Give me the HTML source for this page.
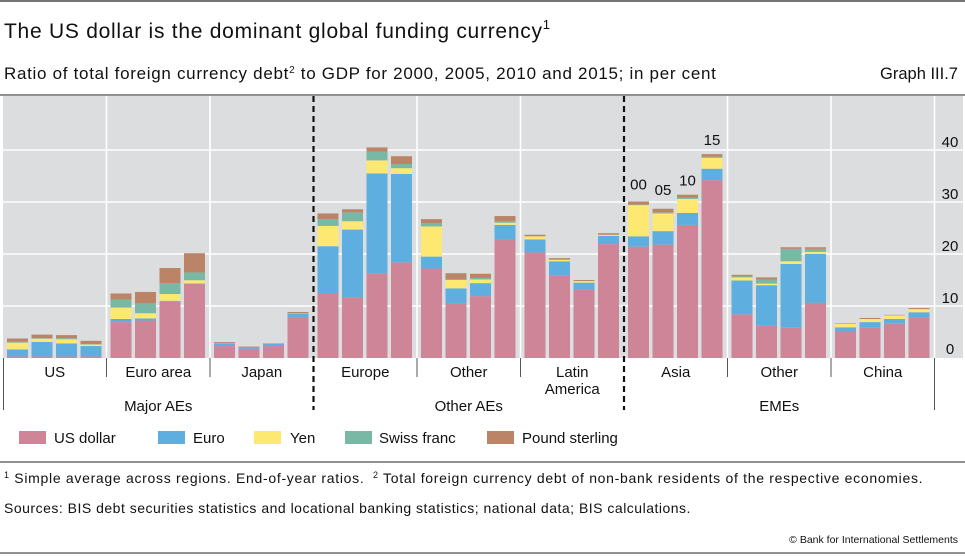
<!DOCTYPE html>
<html><head><meta charset="utf-8"><style>
body{margin:0;background:#fff;}
svg{display:block;font-family:"Liberation Sans",sans-serif;}
</style></head><body>
<svg id="chart" width="965" height="556" viewBox="0 0 965 556">
<line x1="0" y1="1" x2="965" y2="1" stroke="#222" stroke-width="1.2"/>
<text x="4" y="38" font-size="21" fill="#111"><tspan textLength="538" lengthAdjust="spacing">The US dollar is the dominant global funding currency</tspan><tspan font-size="13" dy="-9">1</tspan></text>
<text x="4" y="79" font-size="17" letter-spacing="0.7" fill="#111">Ratio of total foreign currency debt<tspan font-size="10" dy="-6">2</tspan><tspan dy="6"> to GDP for 2000, 2005, 2010 and 2015; in per cent</tspan></text>
<text x="958" y="79" font-size="16.5" fill="#111" text-anchor="end">Graph III.7</text>
<line x1="0" y1="95" x2="965" y2="95" stroke="#222" stroke-width="1"/>
<rect x="3" y="96" width="960" height="262" fill="#dcdddf"/>
<g id="grid"></g><g id="bars"></g><g id="axis"></g>
<g>
<rect x="19" y="431" width="27" height="13" fill="#cf8598"/><text x="54" y="443" font-size="15" fill="#111">US dollar</text>
<rect x="158" y="431" width="27" height="13" fill="#5eaee0"/><text x="193" y="443" font-size="15" fill="#111">Euro</text>
<rect x="254" y="431" width="27" height="13" fill="#fde872"/><text x="290" y="443" font-size="15" fill="#111">Yen</text>
<rect x="345" y="431" width="27" height="13" fill="#7ab8a6"/><text x="379" y="443" font-size="15" fill="#111">Swiss franc</text>
<rect x="487" y="431" width="27" height="13" fill="#bb8466"/><text x="522" y="443" font-size="15" fill="#111">Pound sterling</text>
</g>
<line x1="0" y1="462" x2="965" y2="462" stroke="#222" stroke-width="1"/>
<text x="4" y="483" font-size="14" letter-spacing="0.7" fill="#111"><tspan font-size="9" dy="-5">1</tspan><tspan dy="5">  Simple average across regions. End-of-year ratios.</tspan><tspan x="373" font-size="9" dy="-5">2</tspan><tspan dy="5">  Total foreign currency debt of non-bank residents of the respective economies.</tspan></text>
<text x="4" y="513" font-size="14" letter-spacing="0.5" fill="#111">Sources: BIS debt securities statistics and locational banking statistics; national data; BIS calculations.</text>
<text x="958" y="543" font-size="10.5" fill="#111" text-anchor="end">© Bank for International Settlements</text>
<line x1="0" y1="553" x2="965" y2="553" stroke="#222" stroke-width="1"/>
</svg>
<script>
const categories = ["US","Euro area","Japan","Europe","Other","Latin America","Asia","Other","China"];
const years = ["00","05","10","15"];
const usd  = [0.3,0.3,0.3,0.3, 6.9,7.2,10.8,14.3, 2.3,1.8,2.3,7.8, 12.5,11.7,16.3,18.4, 17.2,10.5,11.9,22.8, 20.3,15.8,13.1,21.9, 21.4,21.8,25.6,34.2, 8.4,6.2,5.9,10.6, 5.1,5.9,6.6,7.8];
const euro = [1.35,2.8,2.5,2.0, 0.6,0.4,0.2,0.05, 0.5,0.3,0.4,0.8, 9.0,13.0,19.2,17.0, 2.3,2.9,2.5,2.8, 2.5,2.8,1.4,1.6, 2.0,2.6,2.3,2.2, 6.5,7.8,12.2,9.4, 0.8,1.0,0.9,1.0];
const yen  = [1.3,0.6,0.8,0.3, 2.2,1.0,1.3,0.6, 0.05,0,0,0.05, 3.9,1.6,2.5,1.1, 5.8,1.6,0.7,0.4, 0.6,0.3,0.3,0.2, 6.0,3.4,2.7,2.1, 0.6,0.3,0.5,0.4, 0.7,0.6,0.7,0.6];
const chf  = [0.2,0.1,0.2,0.1, 1.5,1.9,2.1,1.5, 0,0,0,0, 1.3,1.7,1.7,0.8, 0.6,0.2,0.3,0.3, 0,0,0,0, 0.1,0.2,0.2,0.2, 0.2,0.8,2.4,0.6, 0,0,0,0];
const gbp  = [0.6,0.7,0.6,0.6, 1.2,2.2,2.9,3.7, 0.2,0.1,0.1,0.2, 1.1,0.6,0.8,1.5, 0.8,1.1,0.8,1.0, 0.3,0.3,0.2,0.3, 0.6,0.7,0.6,0.5, 0.3,0.4,0.3,0.3, 0.1,0.2,0.1,0.2];
const yTicks = [0,10,20,30,40];
const series = [usd,euro,yen,chf,gbp];
const seriesNames = ["usd","euro","yen","chf","gbp"];
const colors = ["#cf8598","#5eaee0","#fde872","#7ab8a6","#bb8466"];

const NS="http://www.w3.org/2000/svg";
const y0=358, pxPerUnit=5.2, x0=3, groupW=103.5, barW=21, barStep=24.5;
function yScale(v){return y0-v*pxPerUnit;}
function xScale(i){const g=Math.floor(i/4),k=i%4;return x0+g*groupW+4+k*barStep;}
function mk(tag,attrs,parent){const e=document.createElementNS(NS,tag);for(const k in attrs)e.setAttribute(k,attrs[k]);parent.appendChild(e);return e;}
const grid=document.getElementById('grid'), bars=document.getElementById('bars'), axis=document.getElementById('axis');

yTicks.forEach(t=>{
  if(t>0){const l=mk('line',{x1:3,x2:963,y1:yScale(t),y2:yScale(t),stroke:'#fff','stroke-width':1.6},grid);
  
  }
  const tx=mk('text',{x:950,y:yScale(t)-(t===0?4:3),'font-size':15,'text-anchor':'middle',fill:'#111'},grid);
  tx.textContent=t;
  
  
});
for(let g=1;g<=9;g++){
  const x=x0+g*groupW;
  if(g===3||g===6) continue;
  const l=mk('line',{x1:x,x2:x,y1:96,y2:358,stroke:'#fff','stroke-width':1.6},grid);
  
  
}
[3,6].forEach(g=>{
  const x=x0+g*groupW;
  const l=mk('line',{x1:x,x2:x,y1:96,y2:410,stroke:'#111','stroke-width':2.2,'stroke-dasharray':'6,4'},grid);
  
  
});

for(let i=0;i<usd.length;i++){
  let cum=0;
  series.forEach((s,si)=>{
    const v=s[i]; if(v<=0) return;
    const r=mk('rect',{x:xScale(i),y:yScale(cum+v),width:barW,height:v*pxPerUnit,fill:colors[si]},bars);
    
    
    cum+=v;
  });
  if(i>=24&&i<28){
    const off=[17,19,14,14][i-24];
    const t=mk('text',{x:xScale(i)+barW/2,y:yScale(cum)-off+5,'font-size':15,'text-anchor':'middle',fill:'#111'},bars);
    t.textContent=years[i-24];
    
    
  }
}

categories.forEach((c,g)=>{
  const cx=x0+g*groupW+groupW/2;
  const t=mk('text',{x:cx,y:377,'font-size':15,'text-anchor':'middle',fill:'#111'},axis);
  if(c==="Latin America"){
    t.innerHTML='<tspan x="'+cx+'">Latin</tspan><tspan x="'+cx+'" dy="17">America</tspan>';
  } else {
    t.textContent=c;
  }
  
  
  if(g>0&&g%3!==0){
    const l=mk('line',{x1:x0+g*groupW,x2:x0+g*groupW,y1:358,y2:377,stroke:'#555','stroke-width':1},axis);
    
    
  }
});
[0,9].forEach(g=>{
  const x=g===0?3.5:x0+g*groupW;
  const l=mk('line',{x1:x,x2:x,y1:358,y2:410,stroke:'#555','stroke-width':1},axis);
  
  
});
["Major AEs","Other AEs","EMEs"].forEach((n,k)=>{
  const t=mk('text',{x:x0+(k*3+1.5)*groupW,y:411,'font-size':15,'text-anchor':'middle',fill:'#111'},axis);
  t.textContent=n;
  
  
});
</script>
</body></html>
